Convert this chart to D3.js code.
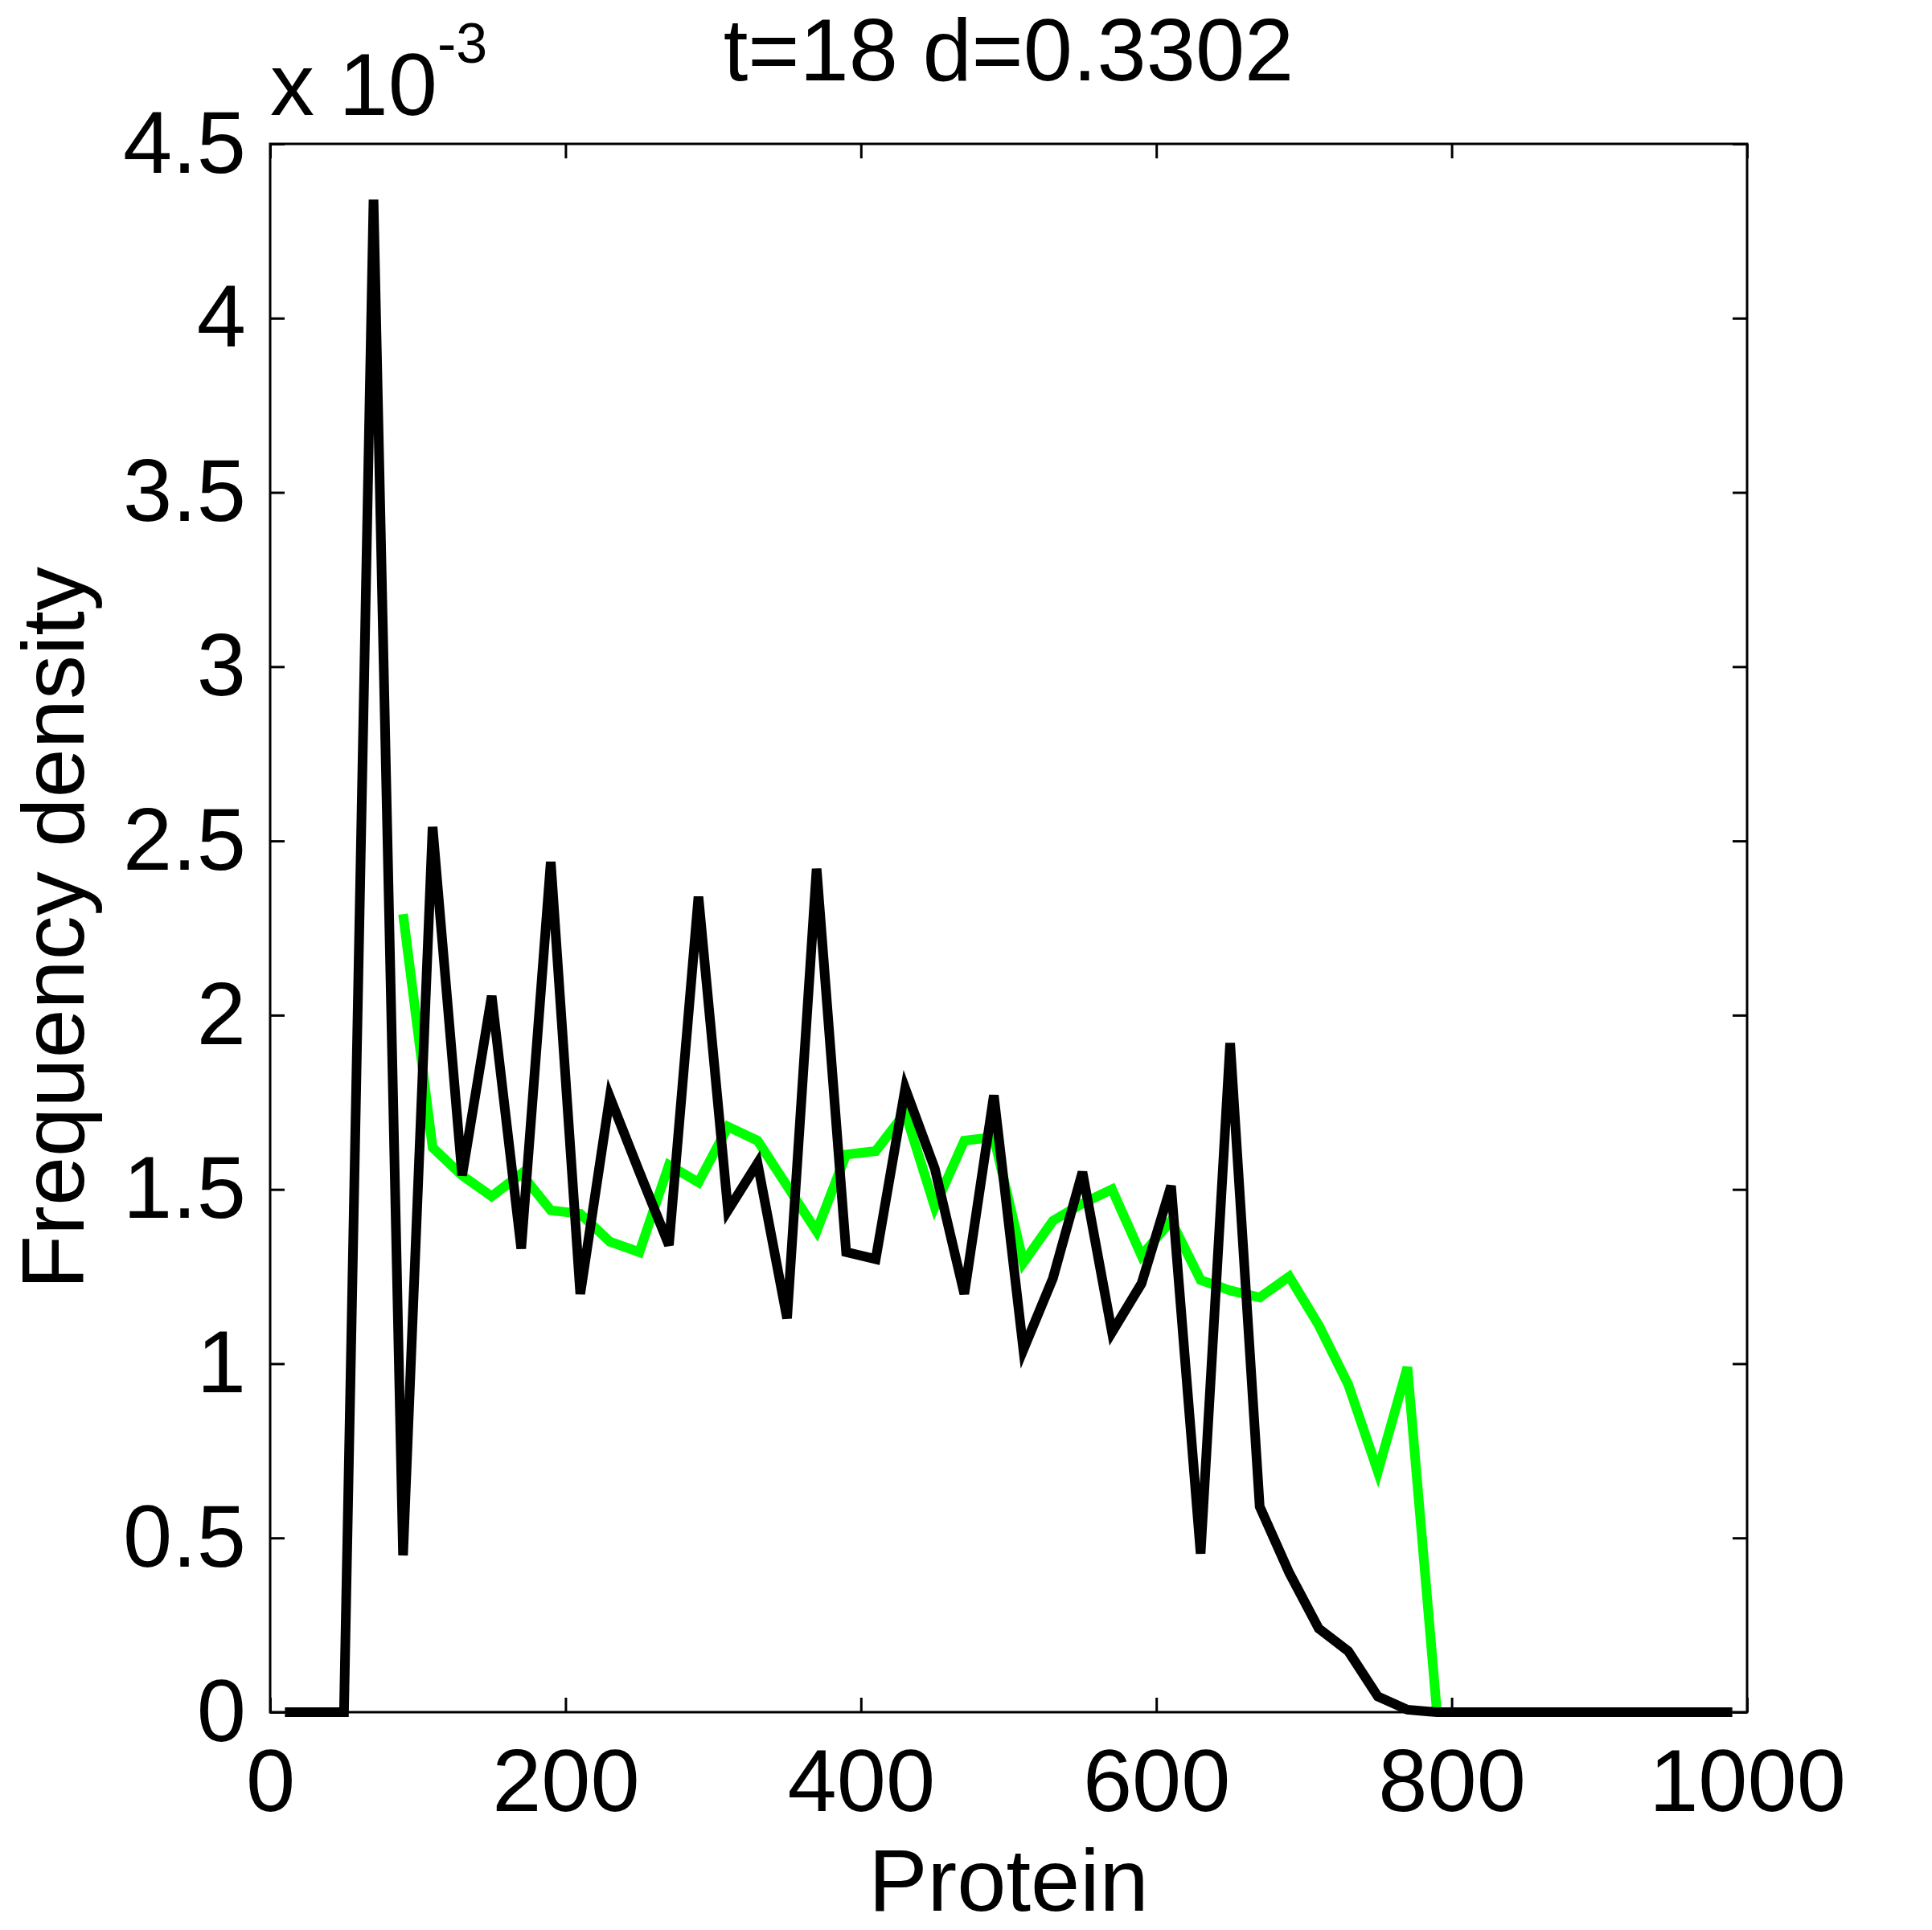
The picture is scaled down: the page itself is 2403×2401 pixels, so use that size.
<!DOCTYPE html>
<html>
<head>
<meta charset="utf-8">
<script src="https://cdn.jsdelivr.net/npm/d3@7"></script>
<style>
  body { margin: 0; background: #fff; }
  text { font-family: "Liberation Sans", Arial, Helvetica, sans-serif; fill: #000; }
</style>
</head>
<body>
<div id="chart"></div>
<script>
// bin centres (Protein) and frequency densities (x 10^-3)
var blackX = [10, 30, 50, 70, 90, 110, 130, 150, 170, 190, 210, 230, 250, 270, 290, 310, 330, 350, 370, 390,
              410, 430, 450, 470, 490, 510, 530, 550, 570, 590, 610, 630, 650, 670, 690, 710, 730, 750, 770, 790,
              810, 830, 850, 870, 890, 910, 930, 950, 970, 990];
var blackY = [0, 0, 0, 4.34, 0.45, 2.54, 1.54, 2.055, 1.33, 2.44, 1.20, 1.765, 1.55, 1.34, 2.34, 1.44, 1.575, 1.13, 2.42, 1.32,
              1.30, 1.79, 1.56, 1.20, 1.77, 1.04, 1.245, 1.55, 1.09, 1.23, 1.51, 0.455, 1.92, 0.59, 0.40, 0.24, 0.175, 0.045, 0.007, 0,
              0, 0, 0, 0, 0, 0, 0, 0, 0, 0];
var greenX = [90, 110, 130, 150, 170, 190, 210, 230, 250, 270, 290, 310, 330, 350, 370, 390, 410, 430,
              450, 470, 490, 510, 530, 550, 570, 590, 610, 630, 650, 670, 690, 710, 730, 750, 770, 790];
var greenY = [2.29, 1.62, 1.54, 1.48, 1.545, 1.44, 1.43, 1.35, 1.32, 1.57, 1.52, 1.68, 1.64, 1.51, 1.38, 1.60, 1.61, 1.72,
              1.45, 1.64, 1.65, 1.29, 1.41, 1.46, 1.50, 1.31, 1.41, 1.24, 1.21, 1.19, 1.25, 1.11, 0.94, 0.69, 0.99, 0];
var xTicks = [0, 200, 400, 600, 800, 1000];
var yTicks = [0, 0.5, 1, 1.5, 2, 2.5, 3, 3.5, 4, 4.5];
var yTickLabels = ["0", "0.5", "1", "1.5", "2", "2.5", "3", "3.5", "4", "4.5"];

var width = 2403, height = 2401;
var plotL = 336, plotR = 2173, plotT = 179, plotB = 2130;
var fs = 110;

var svg = d3.select("#chart").append("svg")
    .attr("width", width)
    .attr("height", height);

var x = d3.scaleLinear().domain([0, 1000]).range([plotL, plotR]);
var y = d3.scaleLinear().domain([0, 4.5]).range([plotB, plotT]);

// axes, ticks pointing inward on all four sides
var gx = svg.append("g").attr("transform", "translate(0," + plotB + ")")
    .call(d3.axisBottom(x).tickValues(xTicks).tickSize(-18).tickPadding(45).tickFormat(d3.format("d")));
var gxt = svg.append("g").attr("transform", "translate(0," + plotT + ")")
    .call(d3.axisTop(x).tickValues(xTicks).tickSize(-18).tickFormat(""));
var gy = svg.append("g").attr("transform", "translate(" + plotL + ",0)")
    .call(d3.axisLeft(y).tickValues(yTicks).tickSize(-18).tickPadding(30)
        .tickFormat(function(d, i) { return yTickLabels[i]; }));
var gyr = svg.append("g").attr("transform", "translate(" + plotR + ",0)")
    .call(d3.axisRight(y).tickValues(yTicks).tickSize(-18).tickFormat(""));

[gx, gxt, gy, gyr].forEach(function(g) {
    g.select(".domain").remove();
    g.selectAll(".tick line").attr("stroke", "#000").attr("stroke-width", 3);
    g.selectAll(".tick text").attr("font-size", fs).attr("font-family", null);
});

svg.append("rect")
    .attr("x", plotL).attr("y", plotT)
    .attr("width", plotR - plotL).attr("height", plotB - plotT)
    .attr("fill", "none").attr("stroke", "#000").attr("stroke-width", 3);

// series
var line = d3.line()
    .x(function(d) { return x(d[0]); })
    .y(function(d) { return y(d[1]); });

svg.append("path")
    .datum(d3.zip(greenX, greenY))
    .attr("d", line)
    .attr("fill", "none")
    .attr("stroke", "#00ff00")
    .attr("stroke-width", 12);

svg.append("path")
    .datum(d3.zip(blackX, blackY))
    .attr("d", line)
    .attr("fill", "none")
    .attr("stroke", "#000")
    .attr("stroke-width", 12);

// labels
svg.append("text")
    .attr("x", (plotL + plotR) / 2).attr("y", 100)
    .attr("text-anchor", "middle").attr("font-size", fs)
    .text("t=18 d=0.3302");

var exp = svg.append("text")
    .attr("x", 336).attr("y", 143)
    .attr("font-size", fs);
exp.append("tspan").text("x 10");
exp.append("tspan").attr("font-size", 70).attr("dy", -65).text("-3");

svg.append("text")
    .attr("x", (plotL + plotR) / 2).attr("y", 2377)
    .attr("text-anchor", "middle").attr("font-size", fs)
    .text("Protein");

svg.append("text")
    .attr("transform", "translate(104," + (plotT + plotB) / 2 + ") rotate(-90)")
    .attr("text-anchor", "middle").attr("font-size", fs)
    .text("Frequency density");
</script>
</body>
</html>
